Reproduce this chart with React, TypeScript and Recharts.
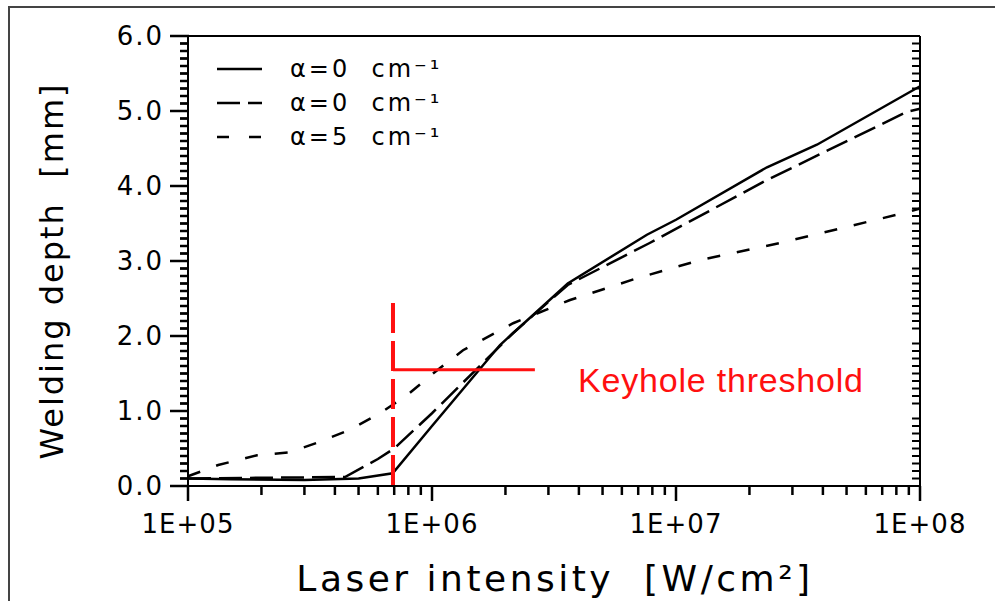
import React from 'react';
import { LineChart, Line, XAxis, YAxis, ReferenceLine } from 'recharts';

// [intensity W/cm², depth mm]
const solidPoints: [number, number][] = [
  [1e5, 0.1], [1.5e5, 0.09], [3e5, 0.08], [5e5, 0.1], [6.9e5, 0.17], [1.0e6, 0.8],
  [1.9e6, 1.88], [3.6e6, 2.7], [7.6e6, 3.35], [1.0e7, 3.55], [2.36e7, 4.25],
  [3.78e7, 4.55], [1e8, 5.33],
];
const longDashPoints: [number, number][] = [
  [1e5, 0.1], [4.4e5, 0.12], [6.0e5, 0.36], [7.0e5, 0.5], [1.0e6, 0.97], [2.15e6, 2.04],
  [3.6e6, 2.68], [7.8e6, 3.24], [2.36e7, 4.08], [8.85e7, 4.99], [1e8, 5.03],
];
const shortDashPoints: [number, number][] = [
  [1e5, 0.13], [1.33e5, 0.28], [1.92e5, 0.41], [2.62e5, 0.45], [3.47e5, 0.59],
  [4.61e5, 0.75], [6.12e5, 0.97], [7.9e5, 1.21], [1.01e6, 1.5], [1.34e6, 1.81],
  [2.15e6, 2.17], [3.68e6, 2.48], [6.92e6, 2.77], [1.25e7, 3.01], [2.75e7, 3.25],
  [4.4e7, 3.41], [8.85e7, 3.65], [1e8, 3.7],
];

const legendLabels = ['α=0  cm⁻¹', 'α=0  cm⁻¹', 'α=5  cm⁻¹'];
const xDecades = [1e5, 1e6, 1e7, 1e8];
const xDecadeLabels = ['1E+05', '1E+06', '1E+07', '1E+08'];

// keyhole marker
const keyholeX = 6.92e5;
const keyholeTop = 2.44;
const keyholeLevel = 1.55;
const keyholeEnd = 2.64e6;
const keyholeText = 'Keyhole threshold';

const toRows = (pts: [number, number][]) => pts.map(([x, y]) => ({ x, y }));

// minor ticks
const xTicks: number[] = [];
for (let d = 0; d < xDecades.length - 1; d++) {
  for (let m = 1; m < 10; m++) xTicks.push(m * xDecades[d]);
}
xTicks.push(xDecades[xDecades.length - 1]);
const yTicks = Array.from({ length: 61 }, (_, i) => i / 10);
const yMinor = yTicks.filter(v => Math.abs(v - Math.round(v)) > 1e-6);

// minor y-tick length, as a fraction of a decade (~8px at 244px/decade)
const tickDecades = 8 / 244;
const leftTickStart = xDecades[0] * Math.pow(10, -tickDecades);
const rightTickStart = xDecades[3] * Math.pow(10, -tickDecades);

const decadeIndex = (v: number) => xDecades.findIndex(d => Math.abs(v / d - 1) < 1e-6);
const isYMajor = (v: number) => Math.abs(v - Math.round(v)) < 1e-6;

const FONT = '"DejaVu Sans", sans-serif';
const INK = '#000';

const bottomTick = (props: any) => {
  const { x, y, payload } = props;
  const idx = decadeIndex(payload.value);
  const major = idx >= 0;
  return (
    <g>
      <line x1={x} x2={x} y1={y} y2={y + (major ? 15 : 9)} stroke={INK} strokeWidth={2.5} />
      {major && (
        <text x={x} y={y + 38} textAnchor="middle" dominantBaseline="central"
          fontFamily={FONT} fontSize={26} fill={INK} letterSpacing={1}>
          {xDecadeLabels[idx]}
        </text>
      )}
    </g>
  );
};

const topTick = (props: any) => {
  const { x, y, payload } = props;
  const major = decadeIndex(payload.value) >= 0;
  return <line x1={x} x2={x} y1={y} y2={y + (major ? 14 : 8)} stroke={INK} strokeWidth={2.5} />;
};

const leftTick = (props: any) => {
  const { x, y, payload } = props;
  const major = isYMajor(payload.value);
  return (
    <g>
      <line x1={x + 1} x2={x - (major ? 18 : 8)} y1={y} y2={y} stroke={INK} strokeWidth={2.5} />
      {major && (
        <text x={x - 24} y={y} textAnchor="end" dominantBaseline="central"
          fontFamily={FONT} fontSize={26} fill={INK} letterSpacing={2}>
          {payload.value.toFixed(1)}
        </text>
      )}
    </g>
  );
};

const rightTick = (props: any) => {
  const { x, y, payload } = props;
  const major = isYMajor(payload.value);
  return <line x1={x + 1} x2={x - (major ? 18 : 9)} y1={y} y2={y} stroke={INK} strokeWidth={2.5} />;
};

const dashes = ['', '23 8', '12 20'];

export default function App() {
  return (
    <div style={{ position: 'fixed', left: 0, top: 0, width: 995, height: 601, background: '#fff' }}>
      <LineChart width={995} height={601} margin={{ top: 26, right: 65, bottom: 65, left: 128 }}>
        <XAxis xAxisId="b" dataKey="x" type="number" scale="log" domain={[1e5, 1e8]}
          ticks={xTicks} interval={0} height={50}
          tickLine={false} tickSize={0} tickMargin={0} tick={bottomTick}
          axisLine={{ stroke: INK, strokeWidth: 2 }} />
        <XAxis xAxisId="t" orientation="top" dataKey="x" type="number" scale="log" domain={[1e5, 1e8]}
          ticks={xTicks} interval={0} height={10}
          tickLine={false} tickSize={0} tickMargin={0} tick={topTick}
          axisLine={{ stroke: INK, strokeWidth: 2 }} />
        <YAxis yAxisId="l" type="number" domain={[0, 6]} ticks={yTicks} interval={0} width={60}
          tickLine={false} tickSize={0} tickMargin={0} tick={leftTick}
          axisLine={{ stroke: INK, strokeWidth: 2 }} />
        <YAxis yAxisId="r" orientation="right" type="number" domain={[0, 6]} ticks={yTicks}
          interval={0} width={10} tickLine={false} tickSize={0} tickMargin={0}
          tick={rightTick} axisLine={{ stroke: INK, strokeWidth: 2 }} />

        {/* minor depth ticks, outside on the left and inside on the right */}
        {yMinor.map(v => (
          <ReferenceLine key={`lm${v}`} xAxisId="b" yAxisId="l" ifOverflow="visible"
            segment={[{ x: leftTickStart, y: v }, { x: xDecades[0], y: v }]}
            stroke={INK} strokeWidth={2} />
        ))}
        {yMinor.map(v => (
          <ReferenceLine key={`rm${v}`} xAxisId="b" yAxisId="l" ifOverflow="visible"
            segment={[{ x: rightTickStart, y: v }, { x: xDecades[3], y: v }]}
            stroke={INK} strokeWidth={2} />
        ))}

        <Line xAxisId="b" yAxisId="l" data={toRows(solidPoints)} dataKey="y" type="linear"
          stroke={INK} strokeWidth={2.5} dot={false} isAnimationActive={false} />
        <Line xAxisId="b" yAxisId="l" data={toRows(longDashPoints)} dataKey="y" type="linear"
          stroke={INK} strokeWidth={2.5} strokeDasharray={dashes[1]} dot={false} isAnimationActive={false} />
        <Line xAxisId="b" yAxisId="l" data={toRows(shortDashPoints)} dataKey="y" type="linear"
          stroke={INK} strokeWidth={2.5} strokeDasharray="13 17" dot={false} isAnimationActive={false} />

        <ReferenceLine xAxisId="b" yAxisId="l"
          segment={[{ x: keyholeX, y: keyholeTop }, { x: keyholeX, y: 0 }]}
          stroke="#ff1010" strokeWidth={4} strokeDasharray="30 8" />
        <ReferenceLine xAxisId="b" yAxisId="l"
          segment={[{ x: keyholeX, y: keyholeLevel }, { x: keyholeEnd, y: keyholeLevel }]}
          stroke="#ff1010" strokeWidth={3} />
      </LineChart>

      {/* outer frame */}
      <div style={{ position: 'absolute', left: 8, top: 6, width: 987, height: 0, borderTop: '2px solid #444' }} />
      <div style={{ position: 'absolute', left: 8, top: 6, width: 0, height: 595, borderLeft: '2px solid #444' }} />

      {/* legend */}
      <div style={{ position: 'absolute', left: 214, top: 52 }}>
        {legendLabels.map((lab, i) => (
          <div key={i} style={{ display: 'flex', alignItems: 'center', height: 34 }}>
            <svg width={50} height={10}>
              <line x1={3} x2={48} y1={5} y2={5} stroke={INK} strokeWidth={2.5} strokeDasharray={dashes[i]} />
            </svg>
            <span style={{ marginLeft: 26, fontFamily: FONT, fontSize: 24, letterSpacing: 3, color: INK, whiteSpace: 'pre' }}>
              {lab}
            </span>
          </div>
        ))}
      </div>

      {/* annotation */}
      <div style={{ position: 'absolute', left: 578, top: 362, fontFamily: '"Liberation Sans", Arial, sans-serif',
        fontSize: 34, color: '#ff1010', whiteSpace: 'nowrap', lineHeight: '36px', letterSpacing: 0.8 }}>
        {keyholeText}
      </div>

      {/* axis titles */}
      <div style={{ position: 'absolute', left: 555, top: 578, transform: 'translate(-50%, -50%)',
        fontFamily: FONT, fontSize: 36, color: INK, whiteSpace: 'pre', letterSpacing: 3.5 }}>
        {'Laser intensity  [W/cm²]'}
      </div>
      <div style={{ position: 'absolute', left: 52, top: 271, transform: 'translate(-50%, -50%) rotate(-90deg)',
        fontFamily: FONT, fontSize: 32, color: INK, whiteSpace: 'pre', letterSpacing: 2 }}>
        {'Welding depth  [mm]'}
      </div>
    </div>
  );
}
